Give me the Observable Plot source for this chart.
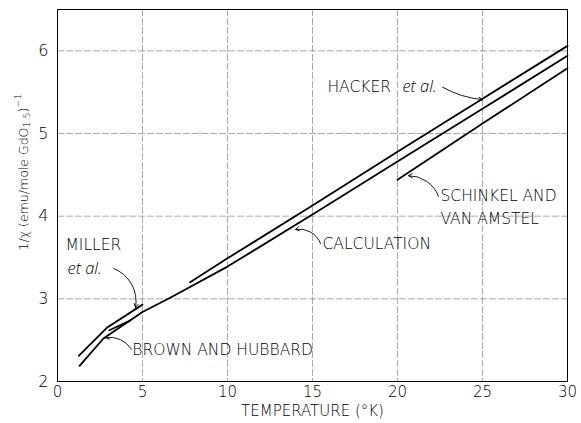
<!DOCTYPE html>
<html>
<head>
<meta charset="utf-8">
<script src="https://cdn.jsdelivr.net/npm/d3@7"></script>
<script src="https://cdn.jsdelivr.net/npm/@observablehq/plot@0.6"></script>
<style>
  html, body { margin: 0; padding: 0; background: white; }
</style>
</head>
<body>
<div id="chart"></div>
<script>
// ---- data ----
const xTicks = [0, 5, 10, 15, 20, 25, 30];
const yTicks = [2, 3, 4, 5, 6];
const xGrid = [5, 10, 15, 20, 25];
const yGrid = [3, 4, 5, 6];

const hackerT = [7.8, 10, 15, 20, 25, 30];
const hackerV = [3.20, 3.49, 4.13, 4.78, 5.42, 6.06];

const calcT = [1.3, 2.7, 5.0, 6.6, 10, 15, 20, 25, 30];
const calcV = [2.19, 2.52, 2.84, 3.01, 3.39, 4.02, 4.66, 5.30, 5.94];

const schinkelT = [20, 25, 30];
const schinkelV = [4.44, 5.12, 5.79];

const millerT = [1.25, 2.9, 5.0];
const millerV = [2.31, 2.65, 2.93];

const brownT = [3.05, 4.3];
const brownV = [2.62, 2.74];

const labelText = ["HACKER", "et al.", "MILLER", "et al.", "BROWN AND HUBBARD", "CALCULATION", "SCHINKEL AND", "VAN AMSTEL"];
const labelT    = [15.88, 20.29, 0.47, 0.59, 4.40, 15.59, 22.53, 22.53];
const labelV    = [5.56, 5.56, 3.645, 3.367, 2.375, 3.657, 4.238, 3.97];
const labelItalic = [false, true, false, true, false, false, false, false];

// leaders: start (near label) -> tip (on curve)
const leadT1 = [22.65, 3.3, 4.35, 15.47, 22.41];
const leadV1 = [5.56, 3.367, 2.39, 3.67, 4.24];
const leadT2 = [25.0, 4.59, 2.82, 14.0, 20.65];
const leadV2 = [5.41, 2.895, 2.53, 3.84, 4.49];
const leadBend = [-12, 40, -35, -40, -35];

const xLabel = "TEMPERATURE (°K)";

// ---- build tables ----
const series = [
  ["hacker", hackerT, hackerV],
  ["calc", calcT, calcV],
  ["schinkel", schinkelT, schinkelV],
  ["miller", millerT, millerV],
  ["brown", brownT, brownV]
].flatMap(([name, T, V]) => T.map((t, i) => ({name, T: t, v: V[i]})));

const labels = labelText.map((text, i) => ({text, T: labelT[i], v: labelV[i], italic: labelItalic[i]}));
const leaders = leadT1.map((t, i) => ({x1: t, y1: leadV1[i], x2: leadT2[i], y2: leadV2[i], bend: leadBend[i]}));

const FONT = "DejaVu Sans";

const plot = Plot.plot({
  width: 581,
  height: 423,
  marginLeft: 57,
  marginRight: 14,
  marginTop: 9,
  marginBottom: 42,
  style: {fontFamily: FONT, fontSize: "15.5px", background: "white", color: "black", fontWeight: 300},
  x: {domain: [0, 30], label: null},
  y: {domain: [2, 6.5], label: null},
  marks: [
    Plot.gridX(xGrid, {stroke: "#666", strokeOpacity: 0.7, strokeWidth: 0.8, strokeDasharray: "7,2"}),
    Plot.gridY(yGrid, {stroke: "#666", strokeOpacity: 0.7, strokeWidth: 0.8, strokeDasharray: "7,2"}),
    Plot.frame({stroke: "black", strokeWidth: 1}),
    Plot.axisX({ticks: xTicks, tickSize: 0, tickPadding: 5, fontSize: 15, tickFormat: d3.format("d"), label: null}),
    Plot.axisY({ticks: yTicks, tickSize: 0, tickPadding: 9, fontSize: 16, tickFormat: d3.format("d"), label: null}),
    Plot.line(series, {x: "T", y: "v", z: "name", stroke: "black", strokeWidth: 1.8}),
    ...leaders.map(d => Plot.arrow([d], {x1: "x1", y1: "y1", x2: "x2", y2: "y2", bend: d.bend, stroke: "black", strokeWidth: 0.9, headLength: 7})),
    Plot.text(labels.filter(d => !d.italic), {x: "T", y: "v", text: "text", textAnchor: "start", fontSize: 15.5, fill: "black"}),
    Plot.text(labels.filter(d => d.italic), {x: "T", y: "v", text: "text", textAnchor: "start", fontSize: 16.5, fontStyle: "italic", fontFamily: "Open Sans", fontWeight: 300, fill: "black"}),
    Plot.text([xLabel], {text: d => d, frameAnchor: "bottom", dy: 34, fontSize: 15, fill: "black"})
  ]
});

document.getElementById("chart").appendChild(plot);

// y-axis label with subscript and superscript
const svg = d3.select(plot);
const yl = svg.append("text")
  .attr("transform", "translate(24,172) rotate(-90)")
  .attr("text-anchor", "middle")
  .attr("dominant-baseline", "middle")
  .attr("font-family", FONT)
  .attr("font-weight", 300)
  .attr("font-size", 12.5)
  .attr("fill", "black");
yl.append("tspan").text("1/χ (emu/mole GdO");
yl.append("tspan").attr("dy", 3).attr("font-size", 9.5).text("1.5");
yl.append("tspan").attr("dy", -3).text(")");
yl.append("tspan").attr("dy", -6).attr("font-size", 9.5).text("−1");
</script>
</body>
</html>
